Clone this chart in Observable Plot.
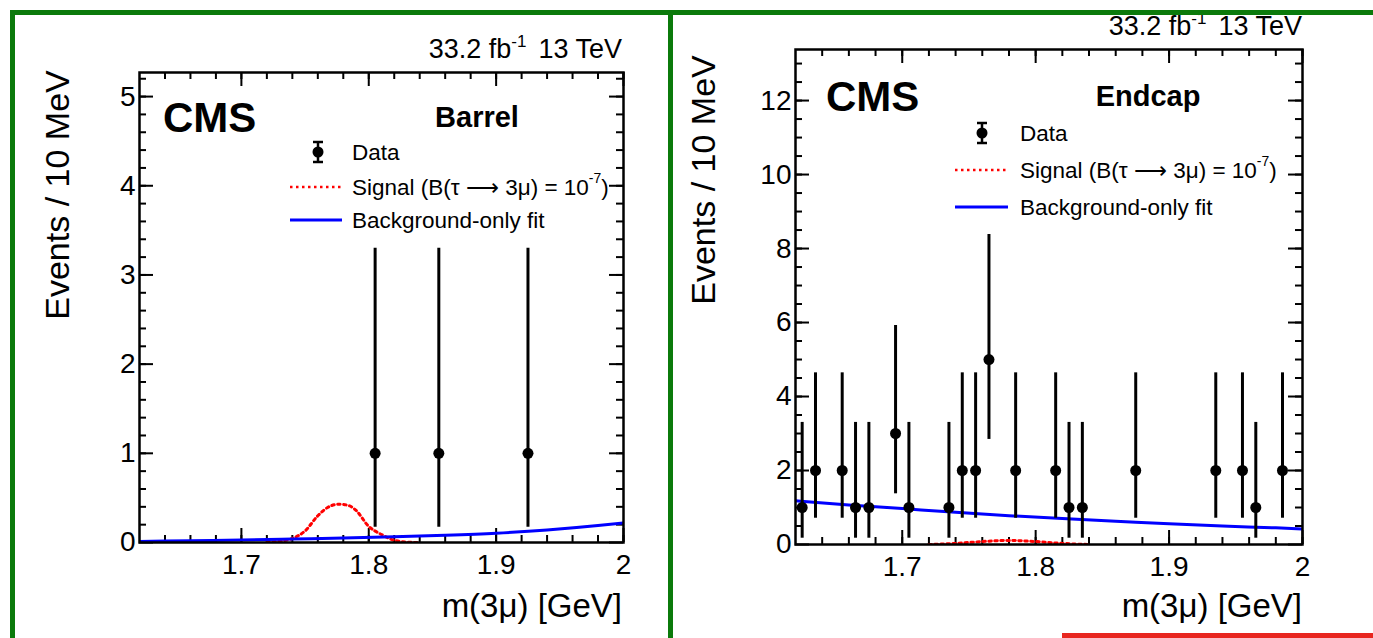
<!DOCTYPE html>
<html>
<head>
<meta charset="utf-8">
<script src="https://cdn.jsdelivr.net/npm/d3@7"></script>
<script src="https://cdn.jsdelivr.net/npm/@observablehq/plot@0.6"></script>
<style>
  html, body { margin: 0; padding: 0; background: #fff; }
  #wrap { position: relative; width: 1373px; height: 638px; overflow: hidden; background: #fff; font-family: "Liberation Sans", Arial, Helvetica, sans-serif; }
  #left, #right { position: absolute; top: 0; }
  #left { left: 0; }
  #right { left: 670px; }
  #overlay { position: absolute; left: 0; top: 0; pointer-events: none; }
</style>
</head>
<body>
<div id="wrap">
  <div id="left"></div>
  <div id="right"></div>
  <svg id="overlay" width="1373" height="638" xmlns="http://www.w3.org/2000/svg"></svg>
</div>
<script>
// ---------------- data ----------------
const massDomain = [1.62, 2.0];
const xMajorTicks = [1.7, 1.8, 1.9, 2.0];

// Barrel data (events per 10 MeV bin, Poisson interval)
const barrelMass = [1.805, 1.855, 1.925];
const barrelCounts = [1, 1, 1];
const barrelErrLow = [0.17, 0.17, 0.17];
const barrelErrHigh = [3.3, 3.3, 3.3];

// Barrel background-only fit
const barrelFitMass = [1.62, 1.66, 1.70, 1.74, 1.78, 1.82, 1.86, 1.90, 1.94, 1.98, 2.0];
const barrelFitValue = [0.012, 0.02, 0.028, 0.038, 0.05, 0.065, 0.082, 0.105, 0.14, 0.19, 0.22];

// Barrel signal (B = 1e-7)
const barrelSigMass = [1.72, 1.73, 1.74, 1.75, 1.76, 1.77, 1.777, 1.785, 1.79, 1.80, 1.81, 1.82, 1.83, 1.84];
const barrelSigValue = [0.0, 0.015, 0.045, 0.13, 0.30, 0.41, 0.43, 0.41, 0.36, 0.18, 0.09, 0.025, 0.005, 0.0];

// Endcap data
const endcapMass = [1.625, 1.635, 1.655, 1.665, 1.675, 1.695, 1.705, 1.735, 1.745, 1.755, 1.765, 1.785, 1.815, 1.825, 1.835, 1.875, 1.935, 1.955, 1.965, 1.985];
const endcapCounts = [1, 2, 2, 1, 1, 3, 1, 1, 2, 2, 5, 2, 2, 1, 1, 2, 2, 2, 1, 2];
const endcapErrLow = [0.17, 0.71, 0.71, 0.17, 0.17, 1.37, 0.17, 0.17, 0.71, 0.71, 2.84, 0.71, 0.71, 0.17, 0.17, 0.71, 0.71, 0.71, 0.17, 0.71];
const endcapErrHigh = [3.3, 4.64, 4.64, 3.3, 3.3, 5.92, 3.3, 3.3, 4.64, 4.64, 8.38, 4.64, 4.64, 3.3, 3.3, 4.64, 4.64, 4.64, 3.3, 4.64];

// Endcap background-only fit
const endcapFitMass = [1.62, 1.66, 1.70, 1.74, 1.78, 1.82, 1.86, 1.90, 1.94, 1.98, 2.0];
const endcapFitValue = [1.18, 1.07, 0.97, 0.87, 0.78, 0.70, 0.63, 0.56, 0.50, 0.45, 0.42];

// Endcap signal
const endcapSigMass = [1.72, 1.74, 1.76, 1.78, 1.80, 1.82, 1.84];
const endcapSigValue = [0.0, 0.03, 0.08, 0.11, 0.08, 0.03, 0.0];

// axis tick values
const barrelYMajor = [0, 1, 2, 3, 4, 5];
const endcapYMajor = [0, 2, 4, 6, 8, 10, 12];

// ---------------- helpers ----------------
const FONT = '"Liberation Sans", Arial, Helvetica, sans-serif';
const xMinorTicks = d3.range(1.64, 2.0001, 0.02).map(v => +v.toFixed(2));

function zip(m, n, lo, hi) { return m.map((v, i) => ({m: v, n: n[i], lo: lo[i], hi: hi[i]})); }
function pairs(m, v) { return m.map((x, i) => ({m: x, v: v[i]})); }

function makePanel({width, height, mL, mR, mT, mB, yMax, yMajor, yMinor, data, fit, sig}) {
  const fw = width - mL - mR, fh = height - mT - mB;
  const maj = 14, mnr = 7;
  return Plot.plot({
    width, height,
    marginLeft: mL, marginRight: mR, marginTop: mT, marginBottom: mB,
    x: {domain: massDomain, axis: null},
    y: {domain: [0, yMax], axis: null},
    style: {fontFamily: FONT, background: "transparent", color: "black", overflow: "visible"},
    marks: [
      Plot.tickX(xMinorTicks, {x: d => d, insetTop: fh - mnr, stroke: "black", strokeWidth: 2}),
      Plot.tickX(xMinorTicks, {x: d => d, insetBottom: fh - mnr, stroke: "black", strokeWidth: 2}),
      Plot.tickX(xMajorTicks, {x: d => d, insetTop: fh - maj, stroke: "black", strokeWidth: 2}),
      Plot.tickX(xMajorTicks, {x: d => d, insetBottom: fh - maj, stroke: "black", strokeWidth: 2}),
      Plot.tickY(yMinor, {y: d => d, insetRight: fw - mnr, stroke: "black", strokeWidth: 2}),
      Plot.tickY(yMinor, {y: d => d, insetLeft: fw - mnr, stroke: "black", strokeWidth: 2}),
      Plot.tickY(yMajor, {y: d => d, insetRight: fw - maj, stroke: "black", strokeWidth: 2}),
      Plot.tickY(yMajor, {y: d => d, insetLeft: fw - maj, stroke: "black", strokeWidth: 2}),
      Plot.axisX({ticks: xMajorTicks, tickSize: 0, tickPadding: 12, fontSize: 28, tickFormat: d => String(d), label: null}),
      Plot.axisY({ticks: yMajor, tickSize: 0, tickPadding: 4, fontSize: 28, tickFormat: d => String(d), label: null}),
      Plot.line(sig, {x: "m", y: "v", stroke: "#ff0000", strokeWidth: 3, strokeDasharray: "2.5,3.5", curve: "monotone-x", clip: true}),
      Plot.line(fit, {x: "m", y: "v", stroke: "#0000ff", strokeWidth: 3, curve: "monotone-x", clip: true}),
      Plot.ruleX(data, {x: "m", y1: "lo", y2: "hi", stroke: "black", strokeWidth: 3}),
      Plot.dot(data, {x: "m", y: "n", r: 5.5, fill: "black", stroke: "none"}),
      Plot.frame({stroke: "black", strokeWidth: 2.5})
    ]
  });
}

document.getElementById("left").append(makePanel({
  width: 668, height: 638, mL: 139, mR: 45, mT: 72, mB: 96,
  yMax: 5.27, yMajor: barrelYMajor, yMinor: d3.range(0.2, 5.21, 0.2).map(v => +v.toFixed(1)),
  data: zip(barrelMass, barrelCounts, barrelErrLow, barrelErrHigh),
  fit: pairs(barrelFitMass, barrelFitValue),
  sig: pairs(barrelSigMass, barrelSigValue)
}));

document.getElementById("right").append(makePanel({
  width: 703, height: 638, mL: 125, mR: 71, mT: 49, mB: 94,
  yMax: 13.38, yMajor: endcapYMajor, yMinor: d3.range(0.5, 13.01, 0.5).map(v => +v.toFixed(1)),
  data: zip(endcapMass, endcapCounts, endcapErrLow, endcapErrHigh),
  fit: pairs(endcapFitMass, endcapFitValue),
  sig: pairs(endcapSigMass, endcapSigValue)
}));

// ---------------- annotations overlay ----------------
const NS = "http://www.w3.org/2000/svg";
const ov = document.getElementById("overlay");
function el(tag, attrs, parent = ov) {
  const e = document.createElementNS(NS, tag);
  for (const k in attrs) e.setAttribute(k, attrs[k]);
  parent.appendChild(e);
  return e;
}
function txt(str, attrs) {
  const t = el("text", Object.assign({"font-family": FONT, fill: "black"}, attrs));
  t.textContent = str;
  return t;
}
function lumi(xEnd, base) {
  const t = el("text", {x: xEnd, y: base, "text-anchor": "end", "font-family": FONT, "font-size": 27, fill: "black"});
  const a = el("tspan", {}, t); a.textContent = "33.2 fb";
  const s = el("tspan", {dy: -11, "font-size": 17}, t); s.textContent = "-1";
  const b = el("tspan", {dy: 11, dx: 12}, t); b.textContent = "13 TeV";
}
function legend(xMarker, xLine0, xLine1, xText, yData, ySig, yFit) {
  el("line", {x1: xMarker, x2: xMarker, y1: yData - 10, y2: yData + 10, stroke: "black", "stroke-width": 2.5});
  el("line", {x1: xMarker - 5, x2: xMarker + 5, y1: yData - 10, y2: yData - 10, stroke: "black", "stroke-width": 2.5});
  el("line", {x1: xMarker - 5, x2: xMarker + 5, y1: yData + 10, y2: yData + 10, stroke: "black", "stroke-width": 2.5});
  el("circle", {cx: xMarker, cy: yData, r: 5.5, fill: "black"});
  txt("Data", {x: xText, y: yData, "font-size": 22.5, "dominant-baseline": "central"});
  el("line", {x1: xLine0, x2: xLine1, y1: ySig, y2: ySig, stroke: "#ff0000", "stroke-width": 2.5, "stroke-dasharray": "2.5,3.5"});
  const t = el("text", {x: xText, y: ySig, "font-family": FONT, "font-size": 22.5, "dominant-baseline": "central", fill: "black"});
  const p1 = el("tspan", {}, t); p1.textContent = "Signal (B(τ ⟶ 3μ) = 10";
  const p2 = el("tspan", {dy: -9, "font-size": 14}, t); p2.textContent = "-7";
  const p3 = el("tspan", {dy: 9}, t); p3.textContent = ")";
  el("line", {x1: xLine0, x2: xLine1, y1: yFit, y2: yFit, stroke: "#0000ff", "stroke-width": 3});
  txt("Background-only fit", {x: xText, y: yFit, "font-size": 22.5, "dominant-baseline": "central"});
}

// Left (Barrel)
lumi(622, 58);
txt("CMS", {x: 163, y: 132, "font-size": 42, "font-weight": "bold"});
txt("Barrel", {x: 477, y: 127, "font-size": 29, "font-weight": "bold", "text-anchor": "middle"});
legend(318, 290, 342, 352, 152, 187, 220);
txt("Events / 10 MeV", {x: 0, y: 0, "font-size": 34, "text-anchor": "middle", "dominant-baseline": "central", transform: "translate(57,195) rotate(-90)"});
txt("m(3μ) [GeV]", {x: 622, y: 617, "font-size": 33, "text-anchor": "end"});

// Right (Endcap)
lumi(1302, 35);
txt("CMS", {x: 826, y: 111, "font-size": 42, "font-weight": "bold"});
txt("Endcap", {x: 1148, y: 106, "font-size": 29, "font-weight": "bold", "text-anchor": "middle"});
legend(982, 955, 1008, 1020, 133, 170, 207);
txt("Events / 10 MeV", {x: 0, y: 0, "font-size": 34, "text-anchor": "middle", "dominant-baseline": "central", transform: "translate(703,180) rotate(-90)"});
txt("m(3μ) [GeV]", {x: 1302, y: 617, "font-size": 33, "text-anchor": "end"});

// Slide decorations: green panel borders and red bar
const G = "#0b7a0b";
el("rect", {x: 10, y: 10, width: 1363, height: 5, fill: G});
el("rect", {x: 10, y: 10, width: 5, height: 628, fill: G});
el("rect", {x: 668, y: 10, width: 5, height: 628, fill: G});
el("rect", {x: 1062, y: 633, width: 311, height: 5, fill: "#e8261f"});
</script>
</body>
</html>
